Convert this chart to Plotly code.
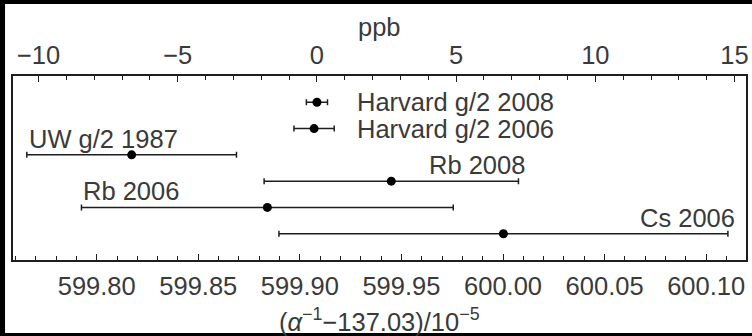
import plotly.graph_objects as go

# ---- data ----
labels = ["Harvard g/2 2008", "Harvard g/2 2006", "UW g/2 1987", "Rb 2008", "Rb 2006", "Cs 2006"]
values = [599.9084, 599.9070, 599.8172, 599.9450, 599.8840, 600.0002]   # (alpha^-1 - 137.03)/1e-5
errors = [0.0052, 0.0099, 0.0516, 0.0626, 0.0915, 0.1105]
rows = [6, 5, 4, 3, 2, 1]
bottom_ticks = [599.80, 599.85, 599.90, 599.95, 600.00, 600.05, 600.10]
ppb_ticks = [-10, -5, 0, 5, 10, 15]
alpha_inv_ref = 137.035999084   # Harvard g/2 2008 value, ppb zero
x_ref = (alpha_inv_ref - 137.03) / 1e-5
x_range = [599.7588, 600.1196]
top_title = "ppb"
bottom_title = "(<i>α</i><sup>−1</sup>−137.03)/10<sup>−5</sup>"

# label placement style
label_place = ["harvard", "harvard", "left", "right", "left", "right"]


def to_ppb(x):
    return (x - x_ref) * 1e-5 / alpha_inv_ref * 1e9


FONT = "Liberation Sans, Arial, sans-serif"
TXT = "#3a3a3a"
LINE = "#1e1e1e"
FS = 25.5

fig = go.Figure()
fig.add_trace(go.Scatter(
    x=values, y=rows, mode="markers",
    marker=dict(size=9, color="black"),
    error_x=dict(type="data", array=errors, visible=True, color=LINE, thickness=1.5, width=3),
    showlegend=False, hoverinfo="skip",
))
fig.add_trace(go.Scatter(
    x=[to_ppb(v) for v in values], y=rows, mode="markers",
    marker=dict(size=1, opacity=0), xaxis="x2",
    showlegend=False, hoverinfo="skip",
))

W, H = 752, 336
ml, mr, mt, mb = 13, 3, 76, 76
pw, ph = W - ml - mr, H - mt - mb


def px_x(px):
    return (px - ml) / pw


def px_y(py):
    return (H - mb - py) / ph


ann = []
for lab, v, e, r, p in zip(labels, values, errors, rows, label_place):
    if p == "harvard":
        ann.append(dict(x=values[1] + errors[1], y=r, text=lab, xanchor="left", yanchor="middle",
                        xshift=21, showarrow=False))
    elif p == "left":
        ann.append(dict(x=v - e, y=r, text=lab, xanchor="left", yanchor="middle",
                        xshift=0, yshift=16, showarrow=False))
    else:
        ann.append(dict(x=v + e, y=r, text=lab, xanchor="right", yanchor="middle",
                        xshift=9, yshift=16, showarrow=False))
for a in ann:
    a["font"] = dict(family=FONT, size=FS, color=TXT)

ann.append(dict(xref="paper", yref="paper", x=0.5, y=px_y(27), text=top_title, showarrow=False,
                xanchor="center", yanchor="middle", font=dict(family=FONT, size=FS, color=TXT)))
ann.append(dict(xref="paper", yref="paper", x=0.5, y=px_y(320), text=bottom_title, showarrow=False,
                xanchor="center", yanchor="middle", font=dict(family=FONT, size=FS, color=TXT)))

shapes = [
    dict(type="rect", xref="paper", yref="paper", x0=px_x(-5), x1=px_x(5), y0=px_y(H + 5), y1=px_y(-5),
         fillcolor="black", line_width=0, layer="above"),
    dict(type="rect", xref="paper", yref="paper", x0=px_x(-5), x1=px_x(W + 5), y0=px_y(4), y1=px_y(-5),
         fillcolor="black", line_width=0, layer="above"),
    dict(type="rect", xref="paper", yref="paper", x0=px_x(-5), x1=px_x(W + 5), y0=px_y(H + 5), y1=px_y(333),
         fillcolor="black", line_width=0, layer="above"),
]

axis_common = dict(
    showgrid=False, zeroline=False, showline=True, linecolor=LINE, linewidth=1.5,
    ticks="inside", ticklen=6, tickwidth=1.2, tickcolor=LINE,
    tickfont=dict(family=FONT, size=FS, color=TXT),
)

fig.update_layout(
    width=W, height=H, autosize=False,
    margin=dict(l=ml, r=mr, t=mt, b=mb, pad=0),
    paper_bgcolor="white", plot_bgcolor="white",
    xaxis=dict(
        **axis_common,
        range=x_range, tickvals=bottom_ticks, tickformat=".2f",
        ticklabelstandoff=3,
        minor=dict(dtick=0.01, ticks="inside", ticklen=4, tickcolor=LINE, tickwidth=1.2),
    ),
    xaxis2=dict(
        **axis_common,
        overlaying="x", side="top",
        range=[to_ppb(x_range[0]), to_ppb(x_range[1])], tickvals=ppb_ticks,
        minor=dict(dtick=1, ticks="inside", ticklen=4, tickcolor=LINE, tickwidth=1.2),
    ),
    yaxis=dict(range=[0, 7], showgrid=False, zeroline=False, showline=True, mirror=True,
               linecolor=LINE, linewidth=1.5, showticklabels=False, ticks=""),
    annotations=ann,
    shapes=shapes,
)

fig.write_html("out.html", config={"displayModeBar": False},
               post_script="document.body.style.margin='0px';")
